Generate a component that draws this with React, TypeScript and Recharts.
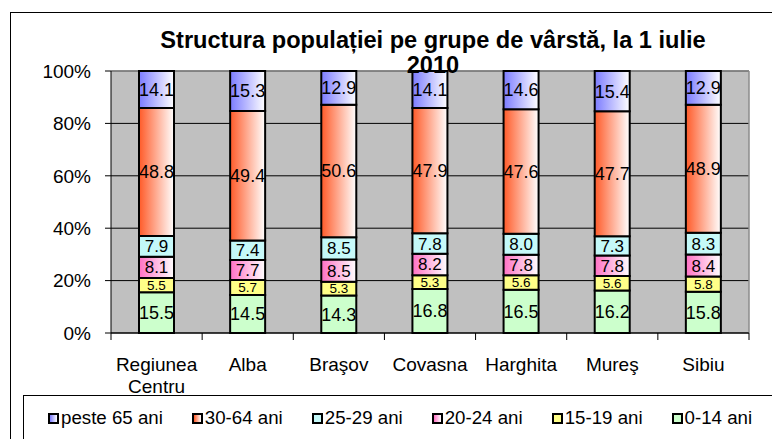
import React from 'react';
import { BarChart, Bar, XAxis, YAxis, CartesianGrid, LabelList } from 'recharts';

const categories = ['Regiunea Centru', 'Alba', 'Braşov', 'Covasna', 'Harghita', 'Mureş', 'Sibiu'];
const age0_14 = [15.5, 14.5, 14.3, 16.8, 16.5, 16.2, 15.8];
const age15_19 = [5.5, 5.7, 5.3, 5.3, 5.6, 5.6, 5.8];
const age20_24 = [8.1, 7.7, 8.5, 8.2, 7.8, 7.8, 8.4];
const age25_29 = [7.9, 7.4, 8.5, 7.8, 8.0, 7.3, 8.3];
const age30_64 = [48.8, 49.4, 50.6, 47.9, 47.6, 47.7, 48.9];
const age65plus = [14.1, 15.3, 12.9, 14.1, 14.6, 15.4, 12.9];
const yTicks = [0, 0.2, 0.4, 0.6, 0.8, 1];
const titleLines = ['Structura populației pe grupe de vârstă, la 1 iulie', '2010'];

const series = [
  { key: 'a0_14', name: '0-14 ani', from: '#CCFFCC', to: '#CCFFCC', fs: 18 },
  { key: 'a15_19', name: '15-19 ani', from: '#FFFF88', to: '#FFFF88', fs: 13.5 },
  { key: 'a20_24', name: '20-24 ani', from: '#FF70C4', to: '#FFFFFF', fs: 17 },
  { key: 'a25_29', name: '25-29 ani', from: '#C2F8F8', to: '#C8FAFA', fs: 17 },
  { key: 'a30_64', name: '30-64 ani', from: '#FF5A28', to: '#FFFFFF', fs: 18 },
  { key: 'a65', name: 'peste 65 ani', from: '#7B7BFF', to: '#FFFFFF', fs: 18 },
];

const data = categories.map((c, i) => ({
  name: c,
  a0_14: age0_14[i],
  a15_19: age15_19[i],
  a20_24: age20_24[i],
  a25_29: age25_29[i],
  a30_64: age30_64[i],
  a65: age65plus[i],
}));

const FONT = '"Liberation Sans", Arial, sans-serif';

const XTick = (props: any) => {
  const { x, y, payload, width, visibleTicksCount, index } = props;
  const n = visibleTicksCount || categories.length;
  const band = width && n ? width / n : 91.14;
  const axisY = y - 7;
  const words = String(payload.value).split(' ');
  return (
    <g>
      <line x1={x - band / 2} x2={x - band / 2} y1={axisY} y2={axisY + 7} stroke="#000" strokeWidth={1} />
      {index === n - 1 && (
        <line x1={x + band / 2} x2={x + band / 2} y1={axisY} y2={axisY + 7} stroke="#000" strokeWidth={1} />
      )}
      <text textAnchor="middle" fontSize={19} fill="#000" fontFamily={FONT}>
        {words.map((w, i) => (
          <tspan key={i} x={x} y={axisY + 38.4 + i * 22}>
            {w}
          </tspan>
        ))}
      </text>
    </g>
  );
};

export default function App() {
  return (
    <div
      style={{
        position: 'absolute',
        left: 0,
        top: 0,
        width: 772,
        height: 439,
        overflow: 'hidden',
        background: '#fff',
        fontFamily: FONT,
      }}
    >
      <div
        style={{
          position: 'absolute',
          left: 10,
          top: 12,
          width: 900,
          height: 600,
          borderTop: '1px solid #000',
          borderLeft: '1px solid #000',
        }}
      />
      <div style={{ position: 'absolute', left: 0, top: 0 }}>
        <BarChart
          width={772}
          height={439}
          data={data}
          stackOffset="expand"
          margin={{ top: 71, right: 23, bottom: 46, left: 0 }}
          barSize={35}
        >
          <defs>
            {series.map((s) => (
              <linearGradient key={s.key} id={'grad_' + s.key} x1="0" y1="0" x2="1" y2="0">
                <stop offset="0%" stopColor={s.from} />
                <stop offset="100%" stopColor={s.to} />
              </linearGradient>
            ))}
          </defs>
          <CartesianGrid vertical={false} stroke="#000" fill="#C0C0C0" fillOpacity={1} />
          <CartesianGrid
            stroke="#8C8C8C"
            strokeWidth={1.5}
            horizontalCoordinatesGenerator={({ offset }: any) => [offset.top]}
            verticalCoordinatesGenerator={({ offset }: any) => [offset.left + offset.width]}
          />
          <XAxis
            dataKey="name"
            height={60}
            tickLine={false}
            tickSize={7}
            tickMargin={0}
            interval={0}
            axisLine={{ stroke: '#000' }}
            tick={<XTick />}
          />
          <YAxis
            width={111}
            domain={[0, 1]}
            ticks={yTicks}
            tickFormatter={(v: number) => `${Math.round(v * 100)}%`}
            tickSize={6}
            tickMargin={14}
            tickLine={{ stroke: '#000' }}
            axisLine={{ stroke: '#000' }}
            tick={{ fontSize: 19, fill: '#000', fontFamily: FONT }}
          />
          {series.map((s) => (
            <Bar
              key={s.key}
              dataKey={s.key}
              name={s.name}
              stackId="a"
              fill={`url(#grad_${s.key})`}
              stroke="#000"
              strokeWidth={2}
              isAnimationActive={false}
            >
              <LabelList
                dataKey={s.key}
                position="center"
                formatter={(v: any) => Number(v).toFixed(1)}
                fill="#000"
                fontSize={s.fs}
                fontFamily={FONT}
              />
            </Bar>
          ))}
        </BarChart>
      </div>
      <div
        style={{
          position: 'absolute',
          left: 153,
          width: 560,
          top: 28,
          textAlign: 'center',
          fontWeight: 'bold',
          fontSize: 23.6,
          lineHeight: '25px',
          color: '#000',
          pointerEvents: 'none',
        }}
      >
        {titleLines.map((t, i) => (
          <div key={i}>{t}</div>
        ))}
      </div>
      <div
        style={{
          position: 'absolute',
          left: 23,
          top: 395,
          width: 900,
          height: 200,
          border: '1px solid #000',
          background: '#fff',
        }}
      />
      <div
        style={{
          position: 'absolute',
          left: 48,
          top: 406,
          display: 'flex',
          alignItems: 'center',
          gap: 29,
          fontSize: 18.7,
          lineHeight: '24px',
          color: '#000',
          whiteSpace: 'nowrap',
        }}
      >
        {[...series].reverse().map((s) => (
          <div key={s.key} style={{ display: 'flex', alignItems: 'center' }}>
            <span
              style={{
                display: 'inline-block',
                width: 11,
                height: 11,
                boxSizing: 'border-box',
                border: '2px solid #000',
                background: `linear-gradient(to right, ${s.from}, ${s.to})`,
                marginRight: 2,
              }}
            />
            <span>{s.name}</span>
          </div>
        ))}
      </div>
    </div>
  );
}
